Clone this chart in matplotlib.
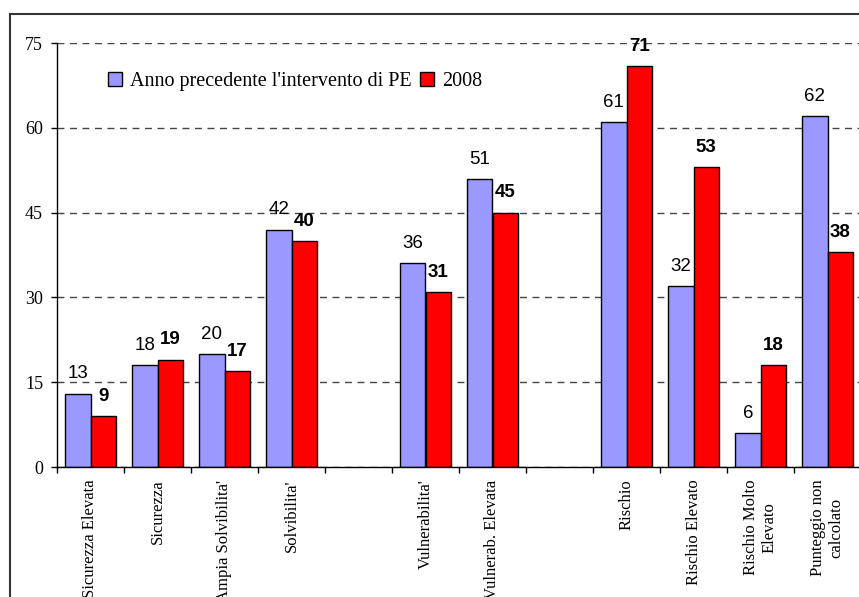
import matplotlib
matplotlib.use("Agg")
import matplotlib.pyplot as plt
import matplotlib.patches as mpatches
import numpy as np

categories = ["Sicurezza Elevata", "Sicurezza", "Ampia Solvibilita'", "Solvibilita'", "",
              "Vulnerabilita'", "Vulnerab. Elevata", "", "Rischio", "Rischio Elevato",
              "Rischio Molto\nElevato", "Punteggio non\ncalcolato"]
prev_year = [13, 18, 20, 42, None, 36, 51, None, 61, 32, 6, 62]
year_2008 = [9, 19, 17, 40, None, 31, 45, None, 71, 53, 18, 38]
series_names = ["Anno precedente l'intervento di PE", "2008"]
yticks = [0, 15, 30, 45, 60, 75]

W, H = 859, 597
fig = plt.figure(figsize=(W / 100, H / 100), dpi=100)
ax = fig.add_axes([57 / W, 1 - 467 / H, (861 - 57) / W, (467 - 43) / H])

serif = "Liberation Serif"
sans = "Liberation Sans"
blue = "#9999FF"
red = "#FF0000"
bw = 0.38

centers = np.arange(len(categories)) + 0.5
for i, (b, r) in enumerate(zip(prev_year, year_2008)):
    if b is not None:
        ax.bar(centers[i] - bw / 2, b, width=bw, color=blue, edgecolor="black", linewidth=1, zorder=3)
        ax.annotate(str(b), (centers[i] - bw / 2, b), xytext=(0, 8), textcoords="offset points",
                    ha="center", va="bottom", fontsize=13.5, family=sans, zorder=4)
    if r is not None:
        ax.bar(centers[i] + bw / 2, r, width=bw, color=red, edgecolor="black", linewidth=1, zorder=3)
        ax.annotate(str(r), (centers[i] + bw / 2, r), xytext=(0, 8), textcoords="offset points",
                    ha="center", va="bottom", fontsize=13.5, family=sans, fontweight="bold", zorder=4)

ax.set_xlim(0, len(categories))
ax.set_ylim(0, 75)
ax.set_yticks(yticks)
ax.set_yticklabels([str(v) for v in yticks], family=serif, fontsize=13)
ax.set_xticks(np.arange(len(categories) + 1))
ax.set_xticklabels([])
ax.set_xticks(centers, minor=True)
ax.set_xticklabels(categories, minor=True, rotation=90, family=serif, fontsize=12,
                   multialignment="center")
ax.tick_params(axis="x", which="minor", length=0, pad=9)
ax.tick_params(axis="x", which="major", direction="out", length=4, width=1)
ax.tick_params(axis="y", direction="out", length=4, width=1, pad=6)

ax.grid(axis="y", linestyle=(0, (5, 4)), color="#444444", linewidth=1, zorder=0)
ax.set_axisbelow(True)
for s in ["top", "right"]:
    ax.spines[s].set_visible(False)
for s in ["left", "bottom"]:
    ax.spines[s].set_linewidth(1)
    ax.spines[s].set_zorder(5)

handles = [mpatches.Patch(facecolor=blue, edgecolor="black", linewidth=1),
           mpatches.Patch(facecolor=red, edgecolor="black", linewidth=1)]
leg = ax.legend(handles, series_names, ncol=2, frameon=False, loc="upper left",
                bbox_to_anchor=(108 / W, 1 - 72 / H), bbox_transform=fig.transFigure,
                prop={"family": serif, "size": 14.5}, handlelength=0.7, handleheight=0.7,
                handletextpad=0.4, columnspacing=0.4, borderpad=0, borderaxespad=0)

# outer frame
rect = mpatches.Rectangle((10 / W, -0.2), 1.2, 1.2 - 14 / H, transform=fig.transFigure,
                          fill=False, edgecolor="#333333", linewidth=1.5, clip_on=False)
fig.patches.append(rect)

fig.savefig("out.png", dpi=100)
